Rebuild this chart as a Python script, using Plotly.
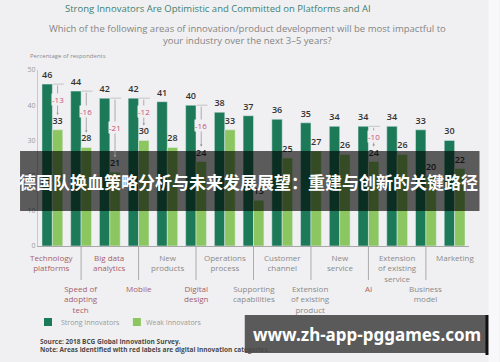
import plotly.graph_objects as go

categories = ["Technology<br>platforms", "Speed of<br>adopting<br>tech", "Big data<br>analytics", "Mobile",
              "New<br>products", "Digital<br>design", "Operations<br>process", "Supporting<br>capabilities",
              "Customer<br>channel", "Extension<br>of existing<br>product", "New<br>service", "AI",
              "Extension<br>of existing<br>service", "Business<br>model", "Marketing"]
strong = [46, 44, 42, 42, 41, 40, 38, 37, 36, 35, 34, 34, 34, 33, 30]
weak = [33, 28, 21, 30, 28, 24, 33, 13, 25, 27, 26, 24, 26, 20, 22]
digital = [True, True, True, True, False, True, False, False, False, False, False, True, False, False, False]
diff_idx = [0, 1, 2, 3, 5, 11]
y_ticks = [0, 10, 20, 30, 40, 50]

W, H = 500, 362
L, R, T, B = 38, 469.5, 70, 246


def px_x(p):
    return (p - L) / (R - L)


def px_y(p):
    return (B - p) / (B - T)


STRONG = "#1c7a58"
WEAK = "#8cc660"
BG = "#f0f0f2"
FONT = "Open Sans"

xs = list(range(len(categories)))
fig = go.Figure()
fig.add_trace(go.Bar(x=xs, y=strong, name="Strong Innovators", marker_color=STRONG,
                     text=[str(v) for v in strong], textposition="outside",
                     textfont=dict(size=9, color="#333333", family=FONT, weight=600), constraintext="none",
                     cliponaxis=False))
fig.add_trace(go.Bar(x=xs, y=weak, name="Weak Innovators", marker_color=WEAK,
                     text=[str(v) for v in weak], textposition="outside",
                     textfont=dict(size=9, color="#333333", family=FONT, weight=600), constraintext="none",
                     cliponaxis=False))

shapes = []
ann = []
off = 0.181


def paper_text(x, y, text, size, color, family=FONT, xanchor="center", align="center"):
    ann.append(dict(x=px_x(x), y=px_y(y), xref="paper", yref="paper", showarrow=False,
                    xanchor=xanchor, yanchor="middle", align=align, text=text,
                    font=dict(size=size, color=color, family=family)))


# difference markers
for i in diff_idx:
    s, w = strong[i], weak[i]
    shapes.append(dict(type="line", xref="x", yref="y", x0=i + 0.02, x1=i + 0.40, y0=s, y1=s,
                       line=dict(color="#b9b9b9", width=0.8)))
    ann.append(dict(x=i + off, y=w + 4.2, xref="x", yref="y", ax=i + off, ay=s, axref="x", ayref="y",
                    text="", showarrow=True, arrowhead=2, arrowsize=0.6, arrowwidth=0.8,
                    arrowcolor="#9a9a9a"))
    ann.append(dict(x=i + off, y=(s + w + 4.2) / 2, xref="x", yref="y", text="-" + str(s - w),
                    showarrow=False, xanchor="center", yanchor="middle",
                    font=dict(size=8, color="#c2507a", family=FONT),
                    bgcolor=BG, borderpad=0))

# x category labels (two alternating rows)
for i, c in enumerate(categories):
    col = "#a5606a" if digital[i] else "#8a8a8a"
    if i % 2 == 0:
        ann.append(dict(x=i, y=px_y(250), xref="x", yref="paper", text=c, showarrow=False,
                        xanchor="center", yanchor="top", font=dict(size=8, color=col, family=FONT)))
    else:
        shapes.append(dict(type="line", xref="x", yref="paper", x0=i, x1=i, y0=0, y1=px_y(280),
                           line=dict(color="#9a9a9a", width=0.8)))
        ann.append(dict(x=i, y=px_y(281), xref="x", yref="paper", text=c, showarrow=False,
                        xanchor="center", yanchor="top", font=dict(size=8, color=col, family=FONT)))

# titles
paper_text(218, 8, "Strong Innovators Are Optimistic and Committed on Platforms and AI", 9.5, "#3f8070")
paper_text(248, 35, "Which of the following areas of innovation/product development will be most impactful to<br>"
                    "your industry over the next 3–5 years?", 9.5, "#858585")
paper_text(28, 56, "Percentage of respondents", 6, "#8a8a8a", xanchor="left")

# legend (manual)
shapes.append(dict(type="rect", xref="paper", yref="paper", x0=px_x(44), x1=px_x(52), y0=px_y(326),
                   y1=px_y(318), fillcolor=STRONG, line=dict(width=0)))
shapes.append(dict(type="rect", xref="paper", yref="paper", x0=px_x(133), x1=px_x(141), y0=px_y(326),
                   y1=px_y(318), fillcolor=WEAK, line=dict(width=0)))
paper_text(59, 322, "Strong Innovators", 7, "#9a9a9a", xanchor="left")
paper_text(144, 322, "Weak Innovators", 7, "#9a9a9a", xanchor="left")

# source
paper_text(38, 345, "<b>Source: 2018 BCG Global Innovation Survey.<br>"
                    "Note: Areas identified with red labels are digital innovation categories.</b>",
           6.5, "#4a4a4a", xanchor="left", align="left")

# overlay banner
shapes.append(dict(type="rect", xref="paper", yref="paper", x0=px_x(20), x1=px_x(480), y0=px_y(211),
                   y1=px_y(151), fillcolor="rgba(0,0,0,0.62)", line=dict(width=0), layer="above"))
paper_text(249, 181, "<b>德国队换血策略分析与未来发展展望：重建与创新的关键路径</b>", 17, "white",
           family="Noto Sans CJK SC")

# watermark
shapes.append(dict(type="rect", xref="paper", yref="paper", x0=px_x(245), x1=px_x(487), y0=px_y(353),
                   y1=px_y(315), fillcolor="#5a5a5a", line=dict(width=0), layer="above"))
shapes.append(dict(type="rect", xref="paper", yref="paper", x0=px_x(486), x1=px_x(489), y0=px_y(355),
                   y1=px_y(315), fillcolor="#111111", line=dict(width=0), layer="above"))
paper_text(367, 334, "<b>www.zh-app-pggames.com</b>", 17, "white", family="Noto Sans")

# side strip
shapes.append(dict(type="rect", xref="paper", yref="paper", x0=px_x(489), x1=px_x(500), y0=px_y(362),
                   y1=px_y(0), fillcolor="#f8f8fa", line=dict(width=0), layer="below"))

fig.update_layout(
    width=W, height=H,
    margin=dict(l=L, r=W - R, t=T, b=H - B, pad=0, autoexpand=False),
    paper_bgcolor=BG, plot_bgcolor=BG,
    barmode="group", bargap=0.276, bargroupgap=0,
    showlegend=False,
    shapes=shapes, annotations=ann,
    font=dict(family=FONT),
    xaxis=dict(range=[-0.5, 14.5], showticklabels=False, showgrid=False, zeroline=False,
               showline=True, linecolor="#a8a8a8", linewidth=1, ticks="", fixedrange=True,
               automargin=False),
    yaxis=dict(range=[0, 50], tickvals=y_ticks, showgrid=False, zeroline=False, showline=True,
               linecolor="#c8c8c8", linewidth=1, ticks="", tickfont=dict(size=7, color="#9a9a9a"),
               fixedrange=True, automargin=False),
)

fig.write_html("out.html", config={"responsive": False, "displayModeBar": False},
               post_script="document.body.style.margin='0';document.body.style.padding='0';")
